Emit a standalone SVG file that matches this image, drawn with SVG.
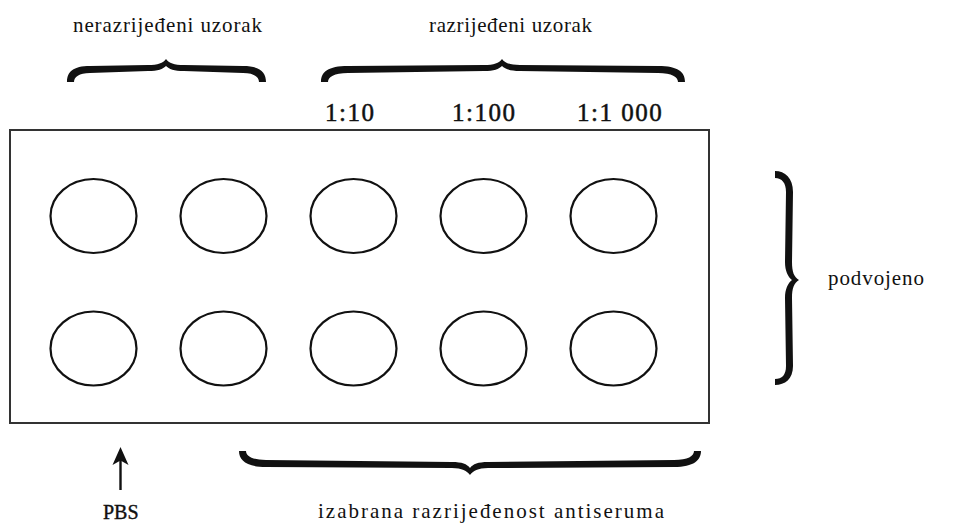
<svg xmlns="http://www.w3.org/2000/svg" width="953" height="524" viewBox="0 0 953 524">
  <style>
    .lbl { font-size: 21px; }
    .num { font-size: 25px; stroke: #111; stroke-width: 0.5; letter-spacing: 1.5px; }
    .pbs { font-size: 20px; stroke: #111; stroke-width: 0.4; }
    .well { fill: none; stroke: #111; stroke-width: 2.2; }
    .brace { fill: #111; }
  </style>

  <!-- plate outline -->
  <g id="plate">
    <rect x="10" y="130" width="699" height="293" fill="#fff" stroke="#333" stroke-width="2"/>
  </g>

  <!-- wells: upper row -->
  <g id="well-r1-c1"><ellipse class="well" cx="93.5" cy="216" rx="43" ry="37"/></g>
  <g id="well-r1-c2"><ellipse class="well" cx="223.5" cy="216" rx="43" ry="37"/></g>
  <g id="well-r1-c3"><ellipse class="well" cx="353.5" cy="216" rx="43" ry="37"/></g>
  <g id="well-r1-c4"><ellipse class="well" cx="483.5" cy="216" rx="43" ry="37"/></g>
  <g id="well-r1-c5"><ellipse class="well" cx="613.5" cy="216" rx="43" ry="37"/></g>
  <!-- wells: lower row -->
  <g id="well-r2-c1"><ellipse class="well" cx="93.5" cy="348.5" rx="43" ry="37"/></g>
  <g id="well-r2-c2"><ellipse class="well" cx="223.5" cy="348.5" rx="43" ry="37"/></g>
  <g id="well-r2-c3"><ellipse class="well" cx="353.5" cy="348.5" rx="43" ry="37"/></g>
  <g id="well-r2-c4"><ellipse class="well" cx="483.5" cy="348.5" rx="43" ry="37"/></g>
  <g id="well-r2-c5"><ellipse class="well" cx="613.5" cy="348.5" rx="43" ry="37"/></g>

  <!-- brackets and the PBS arrow -->
  <g id="connectors">
    <path id="brace-undiluted" class="brace" d="M67,82 C67,72 73,66 90,66 L148,65 C158,65 163,63 166,59 C169,63 174,65 184,65 L243,66 C260,66 266,72 266,82 L259,82 C259,77 254,73 243,73 L184,71 C174,71 169,69 166,66 C163,69 158,71 148,71 L90,73 C79,73 74,77 74,82 Z"/>
    <path id="brace-diluted" class="brace" d="M321,82 C321,72 328,66 348,66 L484,65 C494,65 499,63 502,59 C505,63 510,65 520,65 L658,66 C678,66 685,72 685,82 L678,82 C678,77 672,73 658,73 L520,71 C510,71 505,69 502,66 C499,69 494,71 484,71 L348,73 C334,73 328,77 328,82 Z"/>
    <path id="brace-duplicate" class="brace" d="M775,171 C785,171 793,178 793,192 L792,262 C792,272 794,277 799,280 C794,283 792,288 792,298 L793,366 C793,379 785,385 775,385 L775,379 C782,379 786,375 786,366 L785,298 C785,289 788,283 792,280 C788,277 785,271 785,262 L786,192 C786,183 782,178 775,178 Z"/>
    <path id="brace-antiserum" class="brace" d="M239,451 C239,460 246,467 266,467 L452,468 C462,468 467,471 470,475 C473,471 478,468 488,468 L674,467 C694,467 701,460 701,451 L694,451 C694,456 688,460 674,460 L488,462 C478,462 473,464 470,468 C467,464 462,462 452,462 L266,460 C252,460 246,456 246,451 Z"/>
    <line x1="120.5" y1="490" x2="120.5" y2="458" stroke="#111" stroke-width="2.4"/>
    <path d="M120.5,447 L112.5,465 L120.5,460.5 L128.5,465 Z" fill="#111"/>
  </g>

  <!-- labels -->
  <g id="labels" font-family="Liberation Serif, serif" fill="#111">
    <text class="lbl" x="73" y="32" textLength="189" lengthAdjust="spacing">nerazrijeđeni uzorak</text>
    <text class="lbl" x="429" y="32" textLength="163" lengthAdjust="spacing">razrijeđeni uzorak</text>
    <text class="num" x="325" y="121">1:10</text>
    <text class="num" x="452" y="121">1:100</text>
    <text class="num" x="577" y="121">1:1 000</text>
    <text class="lbl" x="828" y="285" font-size="22" textLength="96" lengthAdjust="spacing">podvojeno</text>
    <text class="pbs" x="103" y="519">PBS</text>
    <text class="lbl" x="318" y="518" textLength="346" lengthAdjust="spacing">izabrana razrijeđenost antiseruma</text>
  </g>
</svg>
